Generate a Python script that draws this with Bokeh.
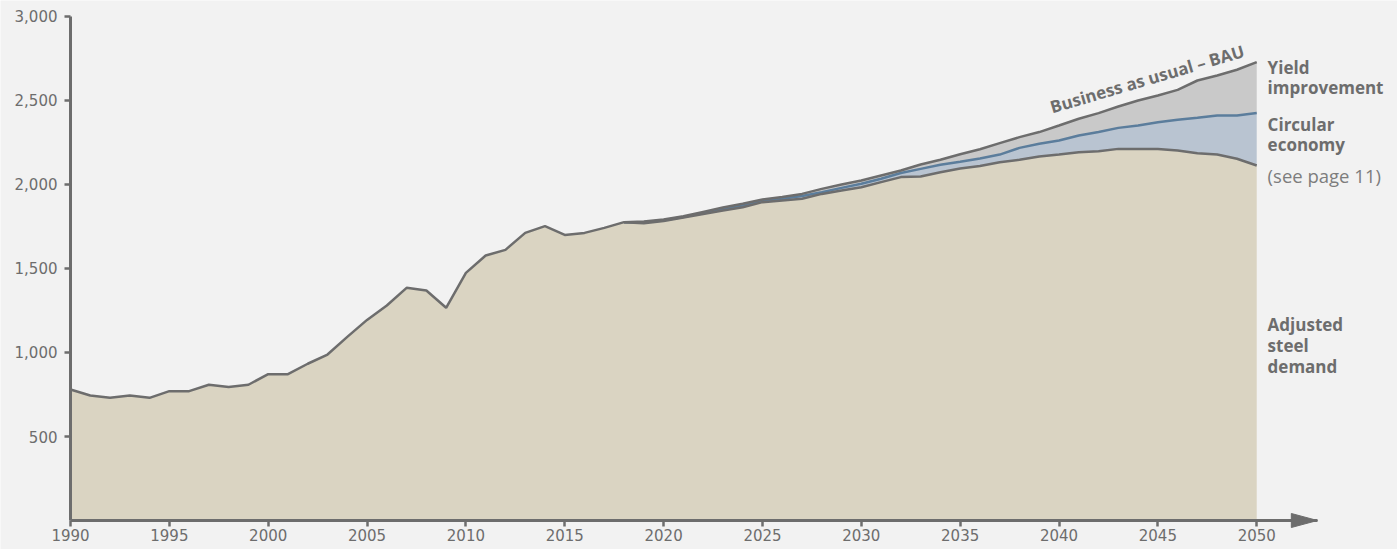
from bokeh.plotting import figure
from bokeh.models import FixedTicker, Label, PolyAnnotation, NumeralTickFormatter, Range1d
from bokeh.embed import file_html
from bokeh.resources import INLINE

# ---- data ----
hist_years = list(range(1990, 2019))
historical = [780, 744, 730, 744, 730, 770, 770, 808, 794, 808, 871, 871, 933, 988,
              1093, 1194, 1280, 1385, 1369, 1266, 1474, 1577, 1611, 1712, 1752, 1700,
              1712, 1742, 1776]
proj_years = list(range(2019, 2051))
bau = [1780, 1792, 1811, 1837, 1863, 1885, 1911, 1925, 1944, 1974, 2000, 2024, 2054,
       2083, 2119, 2147, 2180, 2210, 2246, 2282, 2312, 2351, 2391, 2425, 2464, 2500,
       2530, 2563, 2619, 2649, 2683, 2728]
circular = [1775, 1787, 1807, 1831, 1854, 1875, 1903, 1915, 1931, 1954, 1980, 2004,
            2034, 2068, 2093, 2117, 2135, 2155, 2178, 2218, 2242, 2262, 2292, 2312,
            2337, 2351, 2371, 2385, 2397, 2411, 2411, 2425]
adjusted = [1770, 1782, 1803, 1825, 1845, 1865, 1895, 1905, 1915, 1944, 1964, 1984,
            2014, 2044, 2048, 2073, 2095, 2110, 2133, 2147, 2167, 2179, 2192, 2198,
            2212, 2212, 2212, 2202, 2186, 2179, 2153, 2113]
x_ticks = [1990, 1995, 2000, 2005, 2010, 2015, 2020, 2025, 2030, 2035, 2040, 2045, 2050]
y_ticks = [500, 1000, 1500, 2000, 2500, 3000]

# ---- derived series ----
all_years = hist_years + proj_years
adjusted_full = historical + adjusted
p_years = [hist_years[-1]] + proj_years
bau_p = [historical[-1]] + bau
circ_p = [historical[-1]] + circular
adj_p = [historical[-1]] + adjusted

GRAY = "#6d6d6d"
BG = "#f2f2f2"
FONT = "Open Sans"
TICKFONT = "DejaVu Sans"

X_AXIS_END = 2053.07

p = figure(width=1397, height=549, x_range=Range1d(1986.46, 2057.12), y_range=Range1d(-172.6, 3095.2),
           output_backend="svg", toolbar_location=None,
           min_border_left=0, min_border_right=0, min_border_top=0, min_border_bottom=0,
           background_fill_color=BG, border_fill_color=BG, outline_line_color=None)
p.xgrid.visible = False
p.ygrid.visible = False

p.varea(x=all_years, y1=0, y2=adjusted_full, fill_color="#dad4c2")
p.varea(x=p_years, y1=adj_p, y2=circ_p, fill_color="#b9c4d1")
p.varea(x=p_years, y1=circ_p, y2=bau_p, fill_color="#c9c9c9")

p.line(p_years, circ_p, line_color="#5b7d9c", line_width=2.5)
p.line(p_years, bau_p, line_color=GRAY, line_width=2.5)
p.line(all_years, adjusted_full, line_color=GRAY, line_width=2.5)

for ax in (p.xaxis, p.yaxis):
    ax.axis_line_color = GRAY
    ax.axis_line_width = 3
    ax.major_tick_line_color = GRAY
    ax.major_tick_line_width = 2.5
    ax.major_tick_in = 0
    ax.major_tick_out = 6
    ax.minor_tick_line_color = None
    ax.major_label_text_color = GRAY
    ax.major_label_text_font = TICKFONT
    ax.major_label_text_font_size = "15px"

p.xaxis.ticker = FixedTicker(ticks=x_ticks)
p.yaxis.ticker = FixedTicker(ticks=y_ticks)
p.yaxis.formatter = NumeralTickFormatter(format="0,0")
p.xaxis.major_label_standoff = 2
p.yaxis.major_label_standoff = 7
p.xaxis.fixed_location = 0
p.yaxis.fixed_location = 1990
p.xaxis.bounds = (1990, X_AXIS_END)
p.yaxis.bounds = (0, 3000)

# arrow head at end of x axis
p.add_layout(PolyAnnotation(xs=[2051.75, X_AXIS_END, 2051.75], ys=[-41.7, 0, 41.7],
                            fill_color=GRAY, fill_alpha=1, line_color=GRAY, line_alpha=1))

def lab(txt, x, y, color=GRAY, angle=0, size="17px", style="bold"):
    p.add_layout(Label(x=x, y=y, text=txt, text_font=FONT, text_font_size=size,
                       text_font_style=style, text_color=color,
                       text_baseline="alphabetic", text_align="left", angle=angle))

LX = 2050.55
lab("Yield", LX, 2695)
lab("improvement", LX, 2575)
lab("Circular", LX, 2356)
lab("economy", LX, 2240)
lab("(see page 11)", LX, 2055, color="#7d7d7d", size="18.5px", style="normal")
lab("Adjusted", LX, 1165)
lab("steel", LX, 1040)
lab("demand", LX, 917)
lab("Business as usual \u2013 BAU", 2039.57, 2460, angle=0.286, size="17px")

open("out.html", "w").write(file_html(p, INLINE))
